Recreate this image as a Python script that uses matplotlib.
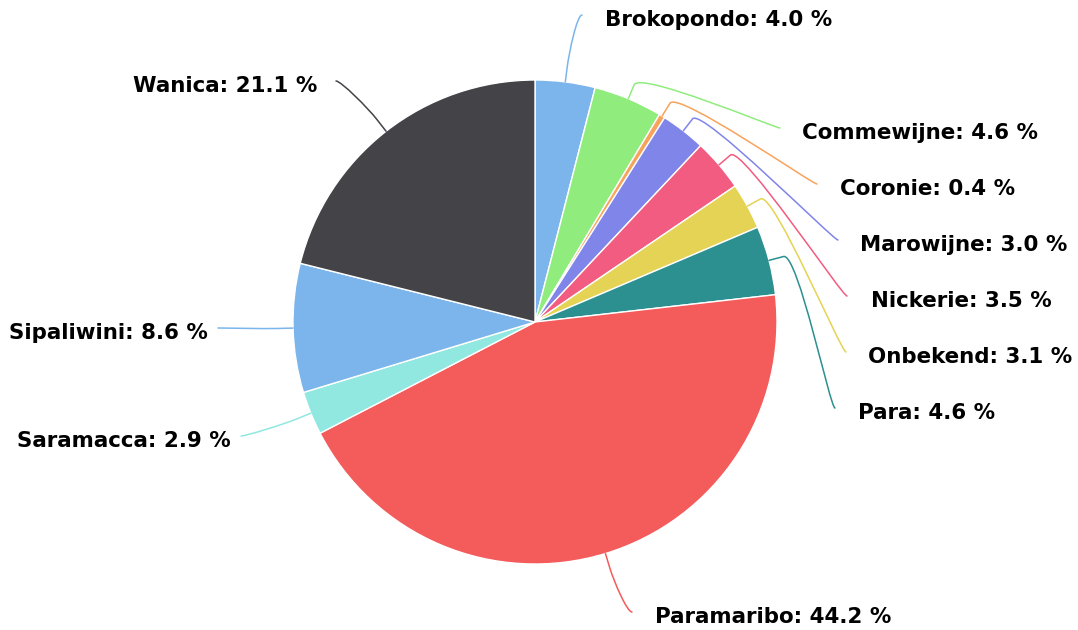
import matplotlib
matplotlib.use("Agg")
import matplotlib.pyplot as plt
import numpy as np
from matplotlib.path import Path
from matplotlib.patches import PathPatch

# district shares (%)
districts = ["Brokopondo", "Commewijne", "Coronie", "Marowijne", "Nickerie",
             "Onbekend", "Para", "Paramaribo", "Saramacca", "Sipaliwini", "Wanica"]
shares = [4.0, 4.6, 0.4, 3.0, 3.5, 3.1, 4.6, 44.2, 2.9, 8.6, 21.1]
colors = ["#7cb5ec", "#90ed7d", "#f7a35c", "#8085e9", "#f15c80", "#e4d354",
          "#2b908f", "#f45b5b", "#91e8e1", "#7cb5ec", "#434348"]

# layout (pixels, y down): where each connector ends, side of the label
label_ends = [(582, 15), (780, 128), (817, 184), (838, 240), (847, 296),
              (846, 352), (835, 408), (632, 612), (241, 436), (218, 328), (336, 81)]
label_gap = [23, 22, 23, 22, 24, 22, 23, 23, 10, 10, 19]

W, H = 1078, 630
cx, cy, R = 535, 322, 242

fig = plt.figure(figsize=(W / 100, H / 100), dpi=100)
ax = fig.add_axes([0, 0, 1, 1])

ax.pie(shares, colors=colors, startangle=90, counterclock=False,
       center=(cx, H - cy), radius=R,
       wedgeprops=dict(edgecolor="white", linewidth=1.0))
ax.set_xlim(0, W)
ax.set_ylim(0, H)
ax.set_aspect("equal")
ax.axis("off")

# pick font size so the label width matches the original
renderer = fig.canvas.get_renderer()
probe = ax.text(0, 0, "Brokopondo: 4.0 %", fontsize=10, fontweight="bold")
w10 = probe.get_window_extent(renderer).width
probe.remove()
fsize = 10 * 228 / w10

cum = np.cumsum([0] + shares[:-1])
for name, val, c0, col, (ex, ey), gap in zip(districts, shares, cum, colors,
                                             label_ends, label_gap):
    t = 2 * np.pi * (c0 + val / 2) / 100.0
    sx, sy = np.sin(t), -np.cos(t)
    touch = np.array([cx + R * sx, cy + R * sy])
    brk = np.array([cx + (R + 15) * sx, cy + (R + 15) * sy])
    right = ex > cx
    ctrl_x = ex - 5 if right else ex + 5
    pts = [(ex, ey), (ctrl_x, ey), tuple(2 * brk - touch), tuple(brk), tuple(touch)]
    pts = [(px, H - py) for px, py in pts]
    codes = [Path.MOVETO, Path.CURVE4, Path.CURVE4, Path.CURVE4, Path.LINETO]
    ax.add_patch(PathPatch(Path(pts, codes), facecolor="none", edgecolor=col,
                           linewidth=1.1, capstyle="round"))
    tx = ex + gap if right else ex - gap
    ax.text(tx, H - (ey + 5), f"{name}: {val:.1f} %", fontsize=fsize,
            fontweight="bold", color="black",
            ha="left" if right else "right", va="center")

fig.savefig("out.png", dpi=100)
